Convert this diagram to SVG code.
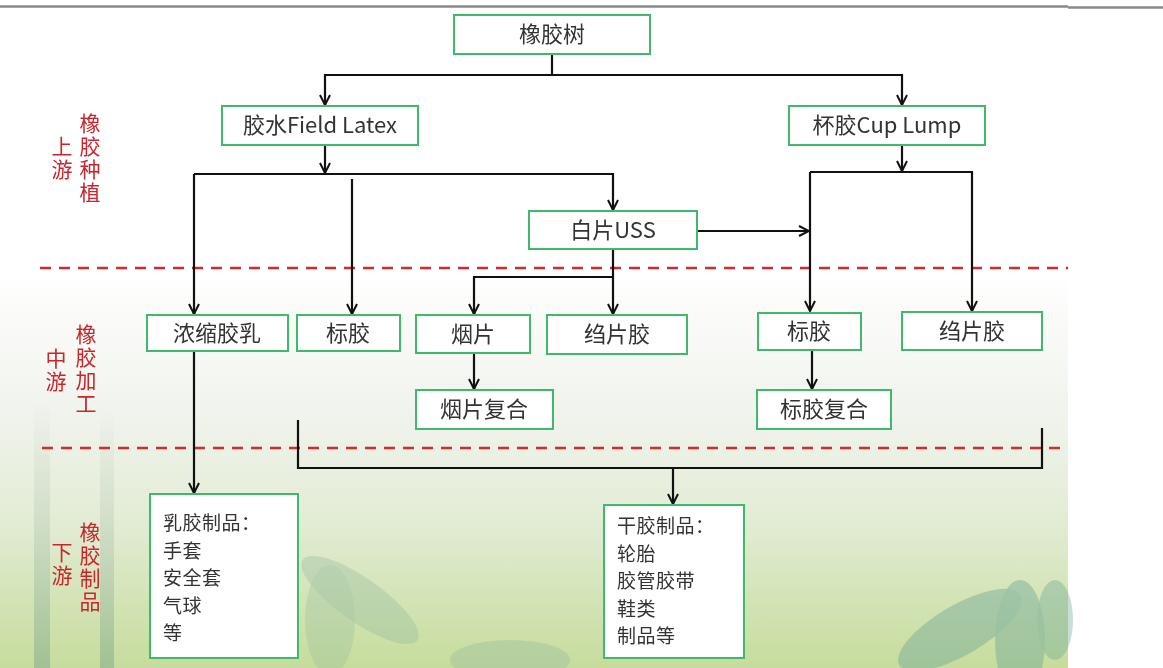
<svg xmlns="http://www.w3.org/2000/svg" width="1163" height="668" viewBox="0 0 1163 668">
  <defs>
    <linearGradient id="bg" x1="0" y1="0" x2="0" y2="1">
      <stop offset="0" stop-color="#ffffff"/>
      <stop offset="0.40" stop-color="#ffffff"/>
      <stop offset="0.62" stop-color="#f0f3ec"/>
      <stop offset="0.78" stop-color="#e2ecd4"/>
      <stop offset="1" stop-color="#c6dc9c"/>
    </linearGradient>
    <linearGradient id="mist" x1="0" y1="0" x2="0" y2="1">
      <stop offset="0" stop-color="#9bb5a5" stop-opacity="0"/>
      <stop offset="0.35" stop-color="#9bb5a5" stop-opacity="0.35"/>
      <stop offset="1" stop-color="#6f9a88" stop-opacity="0.75"/>
    </linearGradient>
    <marker id="arr" viewBox="0 0 12 12" refX="11" refY="6" markerWidth="12" markerHeight="12" markerUnits="userSpaceOnUse" orient="auto">
      <path d="M1,1 L11,6 L1,11" fill="none" stroke="#111" stroke-width="2"/>
    </marker>
    <style>
      .box { fill: #ffffff; stroke: #3fba6a; stroke-width: 2; }
      .t { font-family: "Noto Sans CJK SC", "Noto Sans", sans-serif; font-size: 22px; fill: #333333; text-anchor: middle; }
      .tl { font-family: "Noto Sans CJK SC", "Noto Sans", sans-serif; font-size: 19px; fill: #333333; letter-spacing: 0.5px; }
      .red { font-family: "Noto Sans CJK SC", sans-serif; font-size: 21px; fill: #c8262c; writing-mode: vertical-rl; letter-spacing: 2px; }
      .c { fill: none; stroke: #111111; stroke-width: 2.2; }
      .ca { fill: none; stroke: #111111; stroke-width: 2.2; marker-end: url(#arr); }
      .dash { stroke: #d42a2a; stroke-width: 2.5; stroke-dasharray: 11 8; fill: none; }
    </style>
  </defs>

  <!-- background -->
  <rect x="0" y="0" width="1163" height="668" fill="#ffffff"/>
  <rect x="0" y="8" width="1068" height="660" fill="url(#bg)"/>
  <g id="scenery" opacity="0.55">
    <rect x="34" y="400" width="16" height="268" fill="url(#mist)"/>
    <rect x="100" y="410" width="14" height="258" fill="url(#mist)"/>
    <ellipse cx="360" cy="600" rx="70" ry="22" transform="rotate(35 360 600)" fill="#8fb79c" opacity="0.6"/>
    <ellipse cx="330" cy="620" rx="25" ry="55" fill="#8fb79c" opacity="0.5"/>
    <ellipse cx="510" cy="660" rx="60" ry="20" fill="#8fb79c" opacity="0.6"/>
    <ellipse cx="960" cy="630" rx="70" ry="25" transform="rotate(-30 960 630)" fill="#6fa896" opacity="0.8"/>
    <ellipse cx="1020" cy="640" rx="25" ry="60" fill="#6fa896" opacity="0.8"/>
    <ellipse cx="1055" cy="620" rx="18" ry="40" fill="#6fa896" opacity="0.7"/>
  </g>

  <!-- top rule -->
  <line x1="0" y1="6.5" x2="1068" y2="6.5" stroke="#8a8a8a" stroke-width="2.5"/>
  <line x1="1068" y1="7.5" x2="1163" y2="7.5" stroke="#8a8a8a" stroke-width="2.5"/>

  <!-- section dividers -->
  <line class="dash" x1="40" y1="268" x2="1068" y2="268"/>
  <line class="dash" x1="42" y1="448" x2="1068" y2="448"/>

  <!-- section labels -->
  <g id="label-upstream">
    <text class="red" x="90" y="113">橡胶种植</text>
    <text class="red" x="62" y="136">上游</text>
  </g>
  <g id="label-midstream">
    <text class="red" x="86" y="324">橡胶加工</text>
    <text class="red" x="56" y="348">中游</text>
  </g>
  <g id="label-downstream">
    <text class="red" x="90" y="522">橡胶制品</text>
    <text class="red" x="62" y="542">下游</text>
  </g>

  <!-- connectors -->
  <g id="connectors">
    <path class="c" d="M552,54 V75"/>
    <path class="ca" d="M552,75 H325 V105"/>
    <path class="ca" d="M552,75 H902 V105"/>
    <path class="ca" d="M325,145 V173"/>
    <path class="ca" d="M194,174 H613 V210"/>
    <path class="ca" d="M194,174 V314"/>
    <path class="ca" d="M352,179 V314"/>
    <path class="ca" d="M902,145 V171"/>
    <path class="ca" d="M810,172 H972 V311"/>
    <path class="ca" d="M810,172 V311"/>
    <path class="ca" d="M697,231 H809"/>
    <path class="ca" d="M613,249 V314"/>
    <path class="ca" d="M613,277 H474 V314"/>
    <path class="ca" d="M474,353 V389"/>
    <path class="ca" d="M812,350 V389"/>
    <path class="ca" d="M194,351 V493"/>
    <path class="c" d="M298,420 V468 H1042 V428"/>
    <path class="ca" d="M673,468 V504"/>
  </g>

  <!-- nodes -->
  <g id="n-tree"><rect class="box" x="454" y="15" width="196" height="39"/><text class="t" x="552" y="42">橡胶树</text></g>
  <g id="n-field-latex"><rect class="box" x="222" y="106" width="196" height="39"/><text class="t" x="320" y="133">胶水Field Latex</text></g>
  <g id="n-cup-lump"><rect class="box" x="789" y="106" width="196" height="39"/><text class="t" x="887" y="133">杯胶Cup Lump</text></g>
  <g id="n-uss"><rect class="box" x="529" y="211" width="168" height="38"/><text class="t" x="613" y="238">白片USS</text></g>
  <g id="n-concentrate"><rect class="box" x="147" y="315" width="141" height="36"/><text class="t" x="217" y="341">浓缩胶乳</text></g>
  <g id="n-tsr-left"><rect class="box" x="297" y="315" width="103" height="36"/><text class="t" x="348" y="341">标胶</text></g>
  <g id="n-rss"><rect class="box" x="416" y="315" width="114" height="38"/><text class="t" x="473" y="342">烟片</text></g>
  <g id="n-crepe-mid"><rect class="box" x="547" y="315" width="140" height="39"/><text class="t" x="617" y="342">绉片胶</text></g>
  <g id="n-tsr-right"><rect class="box" x="758" y="313" width="103" height="37"/><text class="t" x="809" y="339">标胶</text></g>
  <g id="n-crepe-right"><rect class="box" x="902" y="312" width="140" height="38"/><text class="t" x="972" y="339">绉片胶</text></g>
  <g id="n-rss-compound"><rect class="box" x="416" y="390" width="137" height="39"/><text class="t" x="484" y="417">烟片复合</text></g>
  <g id="n-tsr-compound"><rect class="box" x="757" y="390" width="134" height="39"/><text class="t" x="824" y="417">标胶复合</text></g>
  <g id="n-latex-products">
    <rect class="box" x="150" y="494" width="148" height="164"/>
    <text class="tl" x="163" y="530">乳胶制品：<tspan x="163" dy="27.6">手套</tspan><tspan x="163" dy="27.6">安全套</tspan><tspan x="163" dy="27.6">气球</tspan><tspan x="163" dy="27.6">等</tspan></text>
  </g>
  <g id="n-dry-products">
    <rect class="box" x="604" y="505" width="140" height="153"/>
    <text class="tl" x="617" y="533">干胶制品：<tspan x="617" dy="27.6">轮胎</tspan><tspan x="617" dy="27.6">胶管胶带</tspan><tspan x="617" dy="27.6">鞋类</tspan><tspan x="617" dy="27.6">制品等</tspan></text>
  </g>
</svg>
